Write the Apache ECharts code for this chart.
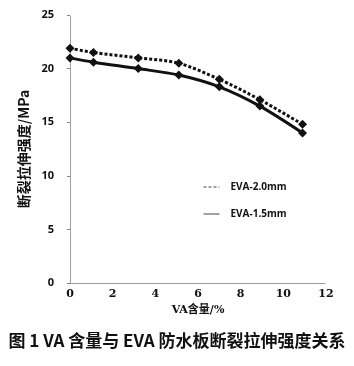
<!DOCTYPE html>
<html>
<head>
<meta charset="utf-8">
<script src="https://cdn.jsdelivr.net/npm/echarts@6/dist/echarts.min.js"></script>
<style>
  html, body { margin: 0; padding: 0; background: #fff; }
  #chart { width: 354px; height: 366px; }
</style>
</head>
<body>
<div id="chart"></div>
<script>
// VA含量 (%) 与断裂拉伸强度 (MPa)
const vaContent = [0, 1.1, 3.2, 5.1, 7.0, 8.9, 10.9];
const eva20 = [21.9, 21.5, 21.0, 20.5, 19.0, 17.1, 14.8];
const eva15 = [21.0, 20.6, 20.0, 19.4, 18.3, 16.5, 14.0];
const legendNames = ["EVA-2.0mm", "EVA-1.5mm"];

const toPairs = (xs, ys) => xs.map((x, i) => [x, ys[i]]);

const chart = echarts.init(document.getElementById("chart"));
const cjk = "'Noto Sans CJK SC', 'DejaVu Sans', sans-serif";
const option = {
  animation: false,
  backgroundColor: "#fff",
  grid: { left: 70, right: 28, top: 15, bottom: 83 },
  legend: {
    orient: "vertical",
    left: 198,
    top: 177,
    itemGap: 17,
    itemWidth: 16,
    itemHeight: 6,
    itemStyle: { opacity: 0 },
    lineStyle: { width: 1, color: "#444" },
    textStyle: { fontSize: 10, fontWeight: "bold", color: "#111", fontFamily: "'Open Sans', sans-serif", padding: [0, 0, 0, 6] },
    data: legendNames
  },
  xAxis: {
    type: "value",
    min: 0,
    max: 12,
    interval: 2,
    name: "VA含量/%",
    nameLocation: "middle",
    nameGap: 20,
    nameTextStyle: { fontSize: 11, fontWeight: "bold", color: "#111", fontFamily: "'DejaVu Serif', 'Noto Sans CJK SC', serif" },
    axisLine: { lineStyle: { color: "#888", type: "dotted", width: 1 } },
    axisTick: { show: false },
    splitLine: { show: false },
    axisLabel: { fontSize: 11, fontWeight: "bold", color: "#111", margin: 6, fontFamily: "'DejaVu Serif', serif" }
  },
  yAxis: {
    type: "value",
    min: 0,
    max: 25,
    interval: 5,
    name: "断裂拉伸强度/MPa",
    nameLocation: "middle",
    nameGap: 36,
    nameRotate: 90,
    nameTextStyle: { fontSize: 14, fontWeight: "bold", color: "#111", fontFamily: cjk, padding: [0, 0, 0, 0] },
    axisLine: { show: true, lineStyle: { color: "#888", type: "dotted", width: 1 } },
    axisTick: { show: true, length: 3, lineStyle: { color: "#888" } },
    splitLine: { show: false },
    axisLabel: { fontSize: 11, fontWeight: "bold", color: "#111", margin: 16, fontFamily: "'Open Sans', sans-serif" }
  },
  series: [
    {
      name: legendNames[0],
      type: "line",
      smooth: 0.3,
      data: toPairs(vaContent, eva20),
      symbol: "diamond",
      symbolSize: 9,
      itemStyle: { color: "#111" },
      lineStyle: { color: "#111", width: 3, type: [3, 2] }
    },
    {
      name: legendNames[1],
      type: "line",
      smooth: 0.3,
      data: toPairs(vaContent, eva15),
      symbol: "diamond",
      symbolSize: 9,
      itemStyle: { color: "#111" },
      lineStyle: { color: "#111", width: 3 }
    }
  ],
  graphic: [
    {
      type: "text",
      left: "center",
      top: 332,
      style: {
        text: "图 1 VA 含量与 EVA 防水板断裂拉伸强度关系",
        font: "bold 17px 'Noto Sans CJK SC', sans-serif",
        fill: "#111"
      }
    }
  ]
};
chart.setOption(option);
</script>
</body>
</html>
